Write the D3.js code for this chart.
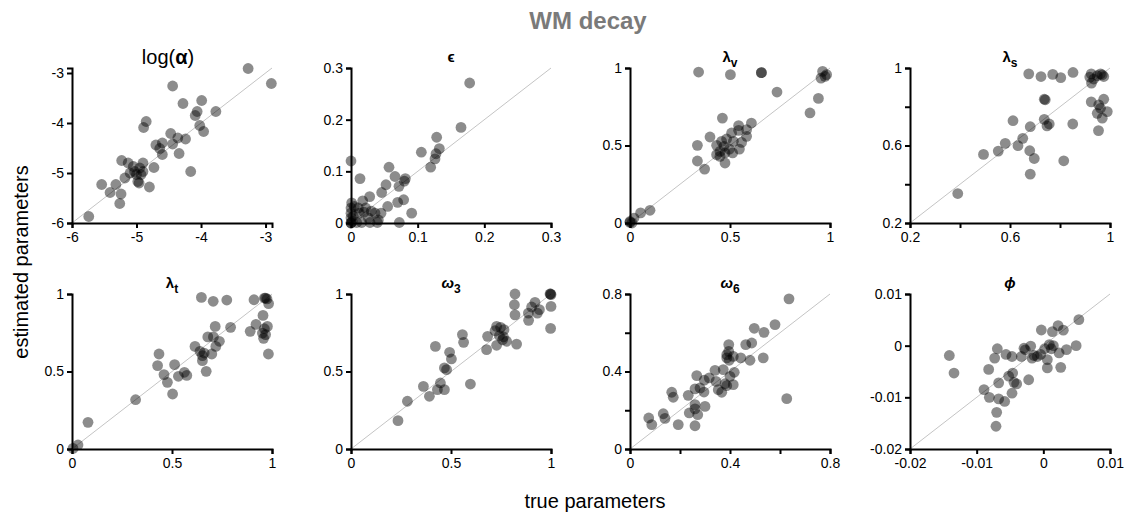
<!DOCTYPE html>
<html>
<head>
<meta charset="utf-8">
<script src="https://cdn.jsdelivr.net/npm/d3@7"></script>
<style>
  html, body { margin: 0; padding: 0; background: #fff; }
  svg { display: block; font-family: "Liberation Sans", Arial, Helvetica, sans-serif; }
  .tick text { font-size: 14px; fill: #000; }
  .domain, .tick line { stroke: #000; stroke-width: 2px; }
</style>
</head>
<body>
<svg id="chart" width="1128" height="518"></svg>
<script>
// Parameter recovery: estimated vs true value per parameter, [true, estimated]
const logAlphaPoints = [
  [-3.27,-2.91],[-2.91,-3.21],[-4.44,-3.26],[-3.99,-3.55],[-4.28,-3.61],[-3.77,-3.77],
  [-4.06,-3.77],[-4.09,-3.85],[-4.85,-3.97],[-4.89,-4.09],[-4.02,-4.05],[-3.96,-4.17],
  [-4.47,-4.21],[-4.36,-4.30],[-4.24,-4.32],[-4.44,-4.42],[-4.60,-4.40],[-4.70,-4.44],
  [-4.64,-4.51],[-4.60,-4.63],[-4.34,-4.61],[-4.16,-4.97],[-4.73,-4.89],[-5.23,-4.75],
  [-5.13,-4.80],[-4.90,-4.80],[-4.95,-4.90],[-5.03,-4.97],[-5.00,-5.03],[-5.10,-5.00],
  [-4.90,-4.97],[-5.18,-5.10],[-4.98,-5.17],[-4.96,-5.20],[-4.80,-5.28],[-5.54,-5.23],
  [-5.32,-5.23],[-5.41,-5.39],[-5.24,-5.42],[-5.26,-5.61],[-5.74,-5.87],[-5.05,-4.87],
  [-4.93,-5.03]
];
const epsilonPoints = [
  [0.178,0.271],[0.165,0.185],[0.1285,0.166],[0.1325,0.144],[0.1275,0.134],[0.126,0.124],
  [0.1195,0.108],[0.1055,0.137],[0.0,0.12],[0.0135,0.086],[0.057,0.108],[0.066,0.090],
  [0.0815,0.086],[0.08,0.081],[0.072,0.071],[0.0525,0.074],[0.046,0.059],[0.028,0.051],
  [0.0175,0.043],[0.001,0.039],[0.005,0.032],[0.0,0.029],[0.011,0.029],[0.022,0.029],
  [0.0195,0.021],[0.0305,0.023],[0.036,0.019],[0.045,0.019],[0.055,0.032],[0.07,0.040],
  [0.079,0.045],[0.091,0.019],[0.0725,0.001],[0.041,0.006],[0.0395,0.001],[0.0035,0.013],
  [0.002,0.003],[0.0085,0.001],[0.016,0.001],[0.0,0.0],[0.026,0.010],[0.0125,0.019],
  [0.0,0.019],[0.0,0.010],[0.0285,0.001],[0.0,0.0]
];
const lambdaVPoints = [
  [0.343,0.974],[0.502,0.957],[0.657,0.970],[0.657,0.970],[0.963,0.978],[0.983,0.957],
  [0.955,0.935],[0.975,0.946],[0.735,0.845],[0.942,0.804],[0.90,0.710],[0.462,0.677],
  [0.607,0.645],[0.543,0.628],[0.583,0.602],[0.543,0.598],[0.508,0.581],[0.40,0.555],
  [0.583,0.559],[0.483,0.542],[0.458,0.527],[0.517,0.527],[0.558,0.52],[0.337,0.501],
  [0.433,0.501],[0.47,0.495],[0.497,0.477],[0.547,0.477],[0.45,0.462],[0.433,0.441],
  [0.475,0.452],[0.513,0.452],[0.45,0.43],[0.337,0.40],[0.475,0.387],[0.373,0.348],
  [0.10,0.082],[0.053,0.065],[0.02,0.032],[0.0,0.004],[0.0,0.01],[0.01,0.0]
];
const lambdaSPoints = [
  [0.675,0.970],[0.724,0.956],[0.771,0.967],[0.803,0.950],[0.852,0.977],[0.925,0.970],
  [0.949,0.960],[0.969,0.965],[0.975,0.956],[0.962,0.970],[0.935,0.943],[0.919,0.953],
  [0.926,0.922],[0.737,0.839],[0.741,0.836],[0.925,0.825],[0.975,0.839],[0.955,0.810],
  [0.962,0.792],[0.989,0.775],[0.949,0.766],[0.969,0.741],[0.954,0.677],[0.612,0.728],
  [0.737,0.735],[0.757,0.711],[0.748,0.701],[0.851,0.711],[0.681,0.697],[0.651,0.637],
  [0.581,0.611],[0.632,0.599],[0.553,0.571],[0.494,0.554],[0.679,0.573],[0.697,0.533],
  [0.815,0.521],[0.681,0.452],[0.391,0.352]
];
const lambdaTPoints = [
  [0.647,0.978],[0.706,0.953],[0.774,0.961],[0.91,0.963],[0.962,0.974],[0.975,0.968],
  [0.983,0.938],[0.955,0.862],[0.92,0.804],[0.977,0.791],[0.962,0.776],[0.968,0.738],
  [0.891,0.759],[0.952,0.748],[0.958,0.714],[0.982,0.613],[0.793,0.785],[0.716,0.791],
  [0.679,0.723],[0.707,0.723],[0.737,0.695],[0.719,0.662],[0.615,0.662],[0.64,0.63],
  [0.661,0.619],[0.652,0.602],[0.699,0.613],[0.652,0.57],[0.671,0.501],[0.435,0.613],
  [0.428,0.538],[0.513,0.544],[0.46,0.48],[0.562,0.495],[0.574,0.475],[0.532,0.469],
  [0.477,0.43],[0.503,0.355],[0.318,0.318],[0.08,0.172],[0.03,0.026],[0.005,0.004],
  [0.968,0.974]
];
const omega3Points = [
  [0.82,1.0],[0.817,0.931],[0.82,0.865],[0.995,1.0],[1.0,0.996],[1.0,0.92],
  [0.998,0.778],[0.92,0.946],[0.903,0.916],[0.942,0.899],[0.932,0.877],[0.887,0.877],
  [0.888,0.83],[0.728,0.791],[0.748,0.785],[0.765,0.77],[0.72,0.763],[0.742,0.731],
  [0.762,0.723],[0.683,0.727],[0.728,0.669],[0.758,0.705],[0.778,0.695],[0.828,0.677],
  [0.678,0.641],[0.557,0.738],[0.563,0.688],[0.422,0.662],[0.493,0.624],[0.502,0.581],
  [0.467,0.523],[0.478,0.512],[0.597,0.419],[0.362,0.404],[0.447,0.426],[0.432,0.383],
  [0.467,0.383],[0.392,0.34],[0.282,0.308],[0.235,0.183],[0.998,1.0]
];
const omega6Points = [
  [0.636,0.775],[0.58,0.642],[0.536,0.602],[0.497,0.623],[0.487,0.547],[0.463,0.539],
  [0.533,0.47],[0.48,0.458],[0.443,0.47],[0.395,0.539],[0.395,0.504],[0.387,0.487],
  [0.413,0.478],[0.387,0.47],[0.397,0.458],[0.627,0.26],[0.373,0.41],[0.34,0.406],
  [0.417,0.396],[0.40,0.375],[0.317,0.367],[0.297,0.355],[0.344,0.349],[0.38,0.337],
  [0.413,0.332],[0.387,0.327],[0.353,0.306],[0.367,0.293],[0.267,0.379],[0.28,0.315],
  [0.296,0.294],[0.26,0.31],[0.233,0.277],[0.167,0.293],[0.173,0.267],[0.26,0.229],
  [0.30,0.22],[0.237,0.186],[0.271,0.177],[0.26,0.207],[0.133,0.182],[0.14,0.158],
  [0.075,0.16],[0.087,0.126],[0.193,0.126],[0.26,0.12]
];
const phiPoints = [
  [0.00533,0.00503],[0.00492,0.0],[0.00221,0.00387],[0.0030,0.0030],[-0.0003,0.00303],
  [0.00136,0.00271],[0.00347,-0.00077],[0.00261,-0.0042],[0.00236,-0.0014],[0.0015,0.0],
  [0.0012,-0.0006],[0.0006,-0.0027],[0.0006,-0.0043],[-0.0004,-0.0017],[-0.0009,-0.0021],
  [-0.0014,-0.0019],[-0.0017,-0.0024],[-0.0019,-0.0001],[-0.0029,-0.0005],[-0.0027,-0.0008],
  [-0.0033,-0.0021],[-0.0022,-0.0066],[-0.0047,-0.0021],[-0.0056,-0.0017],[-0.0069,-0.0006],
  [-0.0073,-0.0024],[-0.0082,-0.0046],[-0.0052,-0.0059],[-0.0046,-0.0053],[-0.0044,-0.0071],
  [-0.0040,-0.0074],[-0.0047,-0.0092],[-0.0067,-0.0072],[-0.0089,-0.0085],[-0.0081,-0.0100],
  [-0.0067,-0.0103],[-0.0058,-0.0108],[-0.0070,-0.0129],[-0.0071,-0.0156],[-0.0141,-0.0019],
  [-0.0134,-0.0053],[0.0002,-0.0006],[0.0009,0.0002]
];

// Axis ranges and ticks (labelled ticks listed separately)
const logAlphaDomain = [-6, -2.9], logAlphaTicks = [-6, -5, -4, -3];
const epsilonDomain = [0, 0.3], epsilonTicks = [0, 0.1, 0.2, 0.3];
const unitDomain = [0, 1], unitTicks = [0, 0.5, 1];
const lambdaSDomain = [0.2, 1], lambdaSTicks = [0.2, 0.4, 0.6, 0.8, 1], lambdaSLabels = [0.2, 0.6, 1];
const omega6Domain = [0, 0.8], omega6Ticks = [0, 0.2, 0.4, 0.6, 0.8], omega6Labels = [0, 0.4, 0.8];
const phiDomain = [-0.02, 0.01], phiTicks = [-0.02, -0.01, 0, 0.01];

const panels = [
  { points: logAlphaPoints, domain: logAlphaDomain, ticks: logAlphaTicks, title: "logalpha" },
  { points: epsilonPoints, domain: epsilonDomain, ticks: epsilonTicks, title: ["ϵ", ""] },
  { points: lambdaVPoints, domain: unitDomain, ticks: unitTicks, title: ["λ", "v"] },
  { points: lambdaSPoints, domain: lambdaSDomain, ticks: lambdaSTicks, labels: lambdaSLabels, title: ["λ", "s"] },
  { points: lambdaTPoints, domain: unitDomain, ticks: unitTicks, title: ["λ", "t"] },
  { points: omega3Points, domain: unitDomain, ticks: unitTicks, title: ["ω", "3"], italic: true },
  { points: omega6Points, domain: omega6Domain, ticks: omega6Ticks, labels: omega6Labels, title: ["ω", "6"], italic: true },
  { points: phiPoints, domain: phiDomain, ticks: phiTicks, title: ["ϕ", ""], italic: true }
];

const svg = d3.select("#chart");
const plotW = 200, plotH = 155;
const lefts = [72, 351, 630, 910];
const tops = [68, 294];
const fmt = v => (Math.abs(v) < 1e-12 ? "0" : d3.format("~g")(v)).replace("−", "-");

panels.forEach((p, i) => {
  const left = lefts[i % 4], top = tops[Math.floor(i / 4)];
  const g = svg.append("g").attr("transform", `translate(${left},${top})`);
  const x = d3.scaleLinear().domain(p.domain).range([0, plotW]);
  const y = d3.scaleLinear().domain(p.domain).range([plotH, 0]);
  const labelled = p.labels || p.ticks;
  const tf = v => labelled.some(l => Math.abs(l - v) < 1e-9) ? fmt(v) : "";

  // identity line
  g.append("line")
    .attr("x1", x(p.domain[0])).attr("y1", y(p.domain[0]))
    .attr("x2", x(p.domain[1])).attr("y2", y(p.domain[1]))
    .attr("stroke", "#c4c4c4").attr("stroke-width", 1);

  g.append("g").selectAll("circle").data(p.points).join("circle")
    .attr("cx", d => x(d[0])).attr("cy", d => y(d[1])).attr("r", 5.4)
    .attr("fill", "#000").attr("fill-opacity", 0.45);

  g.append("g").attr("transform", `translate(0,${plotH})`)
    .call(d3.axisBottom(x).tickValues(p.ticks).tickFormat(tf).tickSizeOuter(0).tickSize(5).tickPadding(4));
  g.append("g")
    .call(d3.axisLeft(y).tickValues(p.ticks).tickFormat(tf).tickSizeOuter(0).tickSize(5).tickPadding(3));

  // panel title
  const cx = plotW / 2;
  if (p.title === "logalpha") {
    const t = g.append("text").attr("x", cx - 4).attr("y", -4).attr("text-anchor", "middle")
      .style("font-size", "20px");
    t.append("tspan").text("log(");
    t.append("tspan").style("font-weight", "bold").text("α");
    t.append("tspan").text(")");
  } else {
    const t = g.append("text").attr("x", cx).attr("y", -6).attr("text-anchor", "middle")
      .style("font-size", "15px").style("font-weight", "bold");
    const main = t.append("tspan").text(p.title[0]);
    if (p.italic) main.style("font-style", "italic");
    if (p.title[1]) t.append("tspan").attr("dy", 5).style("font-size", "12px").text(p.title[1]);
  }
});

svg.append("text").attr("x", 588).attr("y", 29).attr("text-anchor", "middle")
  .style("font-size", "24px").style("font-weight", "bold").style("fill", "#7a7a7a").text("WM decay");
svg.append("text").attr("x", 595).attr("y", 508).attr("text-anchor", "middle")
  .style("font-size", "20px").text("true parameters");
svg.append("text").attr("transform", "translate(28,262) rotate(-90)").attr("text-anchor", "middle")
  .style("font-size", "20px").text("estimated parameters");
</script>
</body>
</html>
